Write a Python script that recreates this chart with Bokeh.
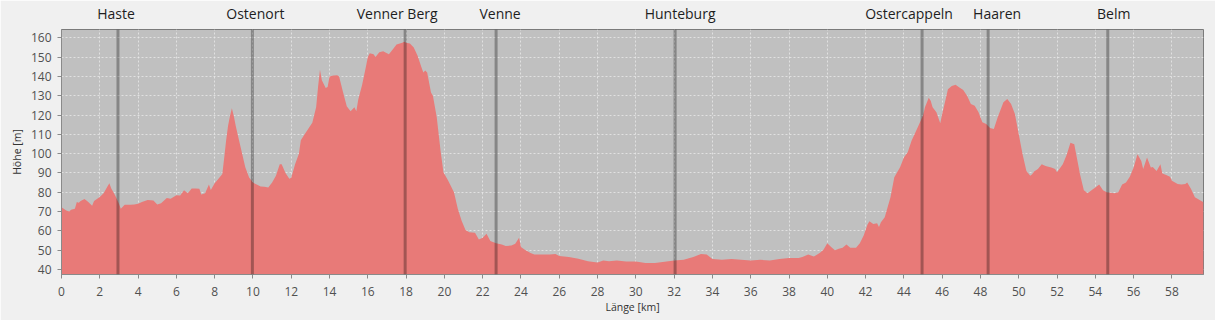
from bokeh.plotting import figure
from bokeh.models import Range1d, LinearAxis, SingleIntervalTicker, FixedTicker, Span
from bokeh.embed import file_html
from bokeh.resources import INLINE

# ---- data -------------------------------------------------------------
km = [0.0, 0.25, 0.4, 0.5, 0.7, 0.8, 0.9, 1.0, 1.2, 1.4, 1.6, 1.7, 2.0, 2.2, 2.4, 2.5, 2.6, 2.8,
      3.0, 3.1, 3.3, 3.6, 3.8, 4.0, 4.2, 4.5, 4.8, 5.0, 5.2, 5.5, 5.7, 6.0, 6.2, 6.4, 6.6, 6.8,
      7.0, 7.2, 7.3, 7.5, 7.7, 7.8, 8.0, 8.2, 8.4, 8.5, 8.6, 8.7, 8.8, 8.9, 9.0, 9.1, 9.2, 9.4,
      9.6, 9.8, 10.0, 10.2, 10.4, 10.6, 10.8, 11.0, 11.2, 11.4, 11.5, 11.7, 11.9, 12.0, 12.2,
      12.4, 12.5, 12.7, 12.9, 13.1, 13.3, 13.4, 13.5, 13.6, 13.8, 13.9, 14.0, 14.2, 14.4, 14.5,
      14.7, 14.9, 15.1, 15.2, 15.3, 15.4, 15.5, 15.7, 15.9, 16.0, 16.1, 16.3, 16.4, 16.6, 16.8,
      17.0, 17.1, 17.3, 17.5, 17.8, 17.9, 18.0, 18.2, 18.4, 18.6, 18.8, 18.9, 19.0, 19.1, 19.3,
      19.4, 19.6, 19.8, 19.95, 20.2, 20.5, 20.7, 20.9, 21.1, 21.3, 21.6, 21.8, 22.0, 22.2, 22.4,
      22.7, 23.0, 23.2, 23.5, 23.7, 23.9, 24.0, 24.2, 24.5, 24.7, 25.0, 25.5, 25.8, 26.0, 26.5,
      27.0, 27.5, 28.0, 28.3, 28.6, 29.0, 29.5, 30.0, 30.5, 31.0, 31.5, 32.0, 32.5, 33.0, 33.4,
      33.7, 34.0, 34.5, 35.0, 35.5, 36.0, 36.5, 37.0, 37.5, 38.0, 38.5, 38.7, 39.0, 39.3, 39.6,
      39.8, 40.0, 40.2, 40.4, 40.6, 40.8, 41.0, 41.2, 41.5, 41.7, 41.9, 42.1, 42.2, 42.4, 42.6,
      42.7, 42.8, 43.0, 43.3, 43.5, 43.8, 44.0, 44.2, 44.4, 44.6, 44.8, 45.0, 45.1, 45.3, 45.4,
      45.5, 45.7, 45.9, 46.0, 46.2, 46.3, 46.5, 46.7, 46.9, 47.1, 47.3, 47.5, 47.7, 47.9, 48.1,
      48.3, 48.5, 48.7, 48.9, 49.2, 49.4, 49.6, 49.8, 50.0, 50.2, 50.4, 50.6, 50.7, 50.8, 51.0,
      51.2, 51.4, 51.7, 51.9, 52.0, 52.3, 52.5, 52.7, 52.9, 53.0, 53.2, 53.4, 53.6, 53.8, 54.0,
      54.2, 54.4, 54.6, 55.0, 55.2, 55.4, 55.6, 55.8, 56.0, 56.2, 56.4, 56.5, 56.7, 56.9, 57.0,
      57.2, 57.4, 57.5, 57.7, 57.9, 58.0, 58.3, 58.5, 58.7, 58.8, 59.0, 59.2, 59.65]

hoehe = [72.2, 70.5, 70.0, 71.0, 71.5, 75.0, 74.5, 75.5, 76.5, 75.0, 73.0, 75.5, 77.5, 79.5, 83.0,
         84.7, 82.0, 78.5, 74.0, 71.5, 73.5, 73.5, 73.6, 74.0, 75.0, 76.0, 75.7, 73.6, 74.3, 77.0,
         76.7, 78.5, 78.3, 81.0, 79.5, 82.0, 82.0, 81.8, 78.8, 79.5, 84.0, 81.2, 84.7, 87.0, 89.5,
         98.0, 107.0, 114.5, 119.5, 123.5, 119.5, 114.5, 110.0, 101.5, 93.0, 87.7, 85.0, 84.0,
         83.0, 82.8, 82.5, 85.0, 88.5, 94.5, 94.5, 90.0, 87.0, 87.5, 94.5, 100.0, 107.0, 110.0,
         113.0, 116.0, 124.0, 134.5, 143.5, 138.0, 134.0, 134.5, 140.0, 140.5, 140.6, 140.0,
         132.0, 124.5, 122.0, 123.0, 124.0, 122.0, 128.0, 135.5, 145.0, 150.0, 152.0, 151.5,
         150.0, 152.5, 153.0, 152.0, 151.5, 154.0, 156.5, 157.4, 158.0, 157.4, 157.0, 155.0,
         150.7, 144.7, 142.0, 143.0, 142.0, 131.7, 130.0, 118.8, 101.5, 90.3, 86.0, 80.0, 71.4,
         65.3, 60.5, 59.3, 59.0, 55.5, 56.4, 58.5, 54.7, 53.6, 53.0, 52.2, 52.4, 53.3, 56.4,
         51.6, 50.2, 48.5, 47.8, 47.8, 47.8, 48.0, 47.0, 46.5, 45.5, 44.3, 43.6, 44.7, 44.3,
         44.7, 44.1, 44.1, 43.4, 43.4, 44.0, 44.7, 45.0, 46.4, 48.0, 47.8, 45.4, 45.0, 45.4,
         45.0, 44.7, 45.0, 44.7, 45.4, 46.0, 46.0, 46.4, 47.8, 46.7, 48.5, 50.2, 53.6, 51.6,
         50.0, 50.8, 51.3, 53.0, 51.3, 51.3, 53.6, 57.6, 63.3, 65.0, 63.6, 64.0, 62.0, 64.5,
         67.0, 77.4, 87.8, 93.0, 98.0, 100.7, 106.7, 111.0, 115.3, 119.7, 124.0, 129.0, 127.4,
         124.0, 121.4, 115.7, 120.5, 129.0, 133.4, 135.0, 135.7, 134.3, 133.0, 130.0, 125.7,
         124.8, 121.4, 116.2, 115.3, 113.3, 112.8, 118.8, 126.6, 128.3, 125.7, 120.5, 110.0,
         99.7, 91.0, 88.6, 89.3, 90.7, 92.0, 94.5, 93.6, 92.8, 92.0, 90.3, 94.5, 99.3, 105.7,
         104.8, 99.7, 89.3, 81.0, 79.5, 81.0, 82.4, 84.0, 81.0, 80.0, 79.5, 80.0, 84.0, 85.0,
         88.0, 92.8, 99.7, 96.2, 92.0, 98.0, 92.8, 93.1, 91.0, 94.5, 89.7, 89.0, 88.0, 86.0,
         84.3, 84.0, 84.3, 85.0, 81.7, 77.4, 74.8]

orte = ["Haste", "Ostenort", "Venner Berg", "Venne", "Hunteburg",
        "Ostercappeln", "Haaren", "Belm"]
orte_km = [2.95, 9.97, 17.95, 22.7, 32.05, 44.95, 48.4, 54.65]

x_label = "Länge [km]"
y_label = "Höhe [m]"

# ---- style ------------------------------------------------------------
FONT = "Open Sans"
X_END = 59.65
FRAME_W = 1142
label_dx = [-2, 3, -8, 4, 5, -13, 9, 6]   # pixel nudges of the place names

p = figure(width=1215, height=320, output_backend="svg", toolbar_location=None,
           x_range=Range1d(0, X_END), y_range=Range1d(37.4, 164.3),
           min_border_left=61, min_border_right=12, min_border_top=28, min_border_bottom=46)

bx = p.below[0]
ly = p.left[0]

p.background_fill_color = "#c0c0c0"
p.border_fill_color = "#f0f0f0"
p.outline_line_color = "#7a7a7a"
p.outline_line_width = 1

p.varea(x=km, y1=0, y2=hoehe, fill_color="#e87a78", fill_alpha=1.0)

for loc in orte_km:
    p.add_layout(Span(location=loc, dimension="height", line_color="black",
                      line_alpha=0.3, line_width=3))

bx.ticker = SingleIntervalTicker(interval=2, num_minor_ticks=0)
ly.ticker = SingleIntervalTicker(interval=10, num_minor_ticks=0)
bx.axis_label = x_label
ly.axis_label = y_label

for ax in (bx, ly):
    ax.axis_line_color = "#8a8a8a"
    ax.major_tick_line_color = "#8a8a8a"
    ax.major_tick_out = 4
    ax.major_tick_in = 0
    ax.minor_tick_line_color = None
    ax.major_label_text_font = FONT
    ax.major_label_text_font_size = "12px"
    ax.major_label_text_color = "#505050"
    ax.axis_label_text_font = FONT
    ax.axis_label_text_font_size = "10.5px"
    ax.axis_label_text_font_style = "normal"
    ax.axis_label_text_color = "#333333"
bx.major_label_standoff = 8
ly.major_label_standoff = 6
bx.axis_label_standoff = 1
ly.axis_label_standoff = 4

# place names as a tick-less axis above the plot
label_pos = [k + dx * X_END / FRAME_W for k, dx in zip(orte_km, label_dx)]
overrides = {}
for pos, name in zip(label_pos, orte):
    overrides[pos] = name
    overrides[str(pos)] = name
top = LinearAxis(ticker=FixedTicker(ticks=label_pos), major_label_overrides=overrides,
                 axis_line_color=None, major_tick_line_color=None, minor_tick_line_color=None,
                 major_tick_out=0, major_tick_in=0, major_label_standoff=7,
                 major_label_text_font=FONT, major_label_text_font_size="14px",
                 major_label_text_color="#1e1e1e")
p.add_layout(top, "above")

# small gap between plot area and axes (spacer axes)
def spacer():
    return LinearAxis(ticker=FixedTicker(ticks=[]), axis_line_color=None,
                      major_tick_out=4, major_tick_in=0, major_tick_line_color=None,
                      minor_tick_line_color=None, axis_label=None)

p.below = [spacer()] + list(p.below)
p.left = [spacer()] + list(p.left)

for g in (p.xgrid, p.ygrid):
    g.grid_line_color = "#e8e8e8"
    g.grid_line_alpha = 0.8
    g.grid_line_dash = "2 2"
    g.grid_line_width = 1

open("out.html", "w").write(file_html(p, INLINE))
